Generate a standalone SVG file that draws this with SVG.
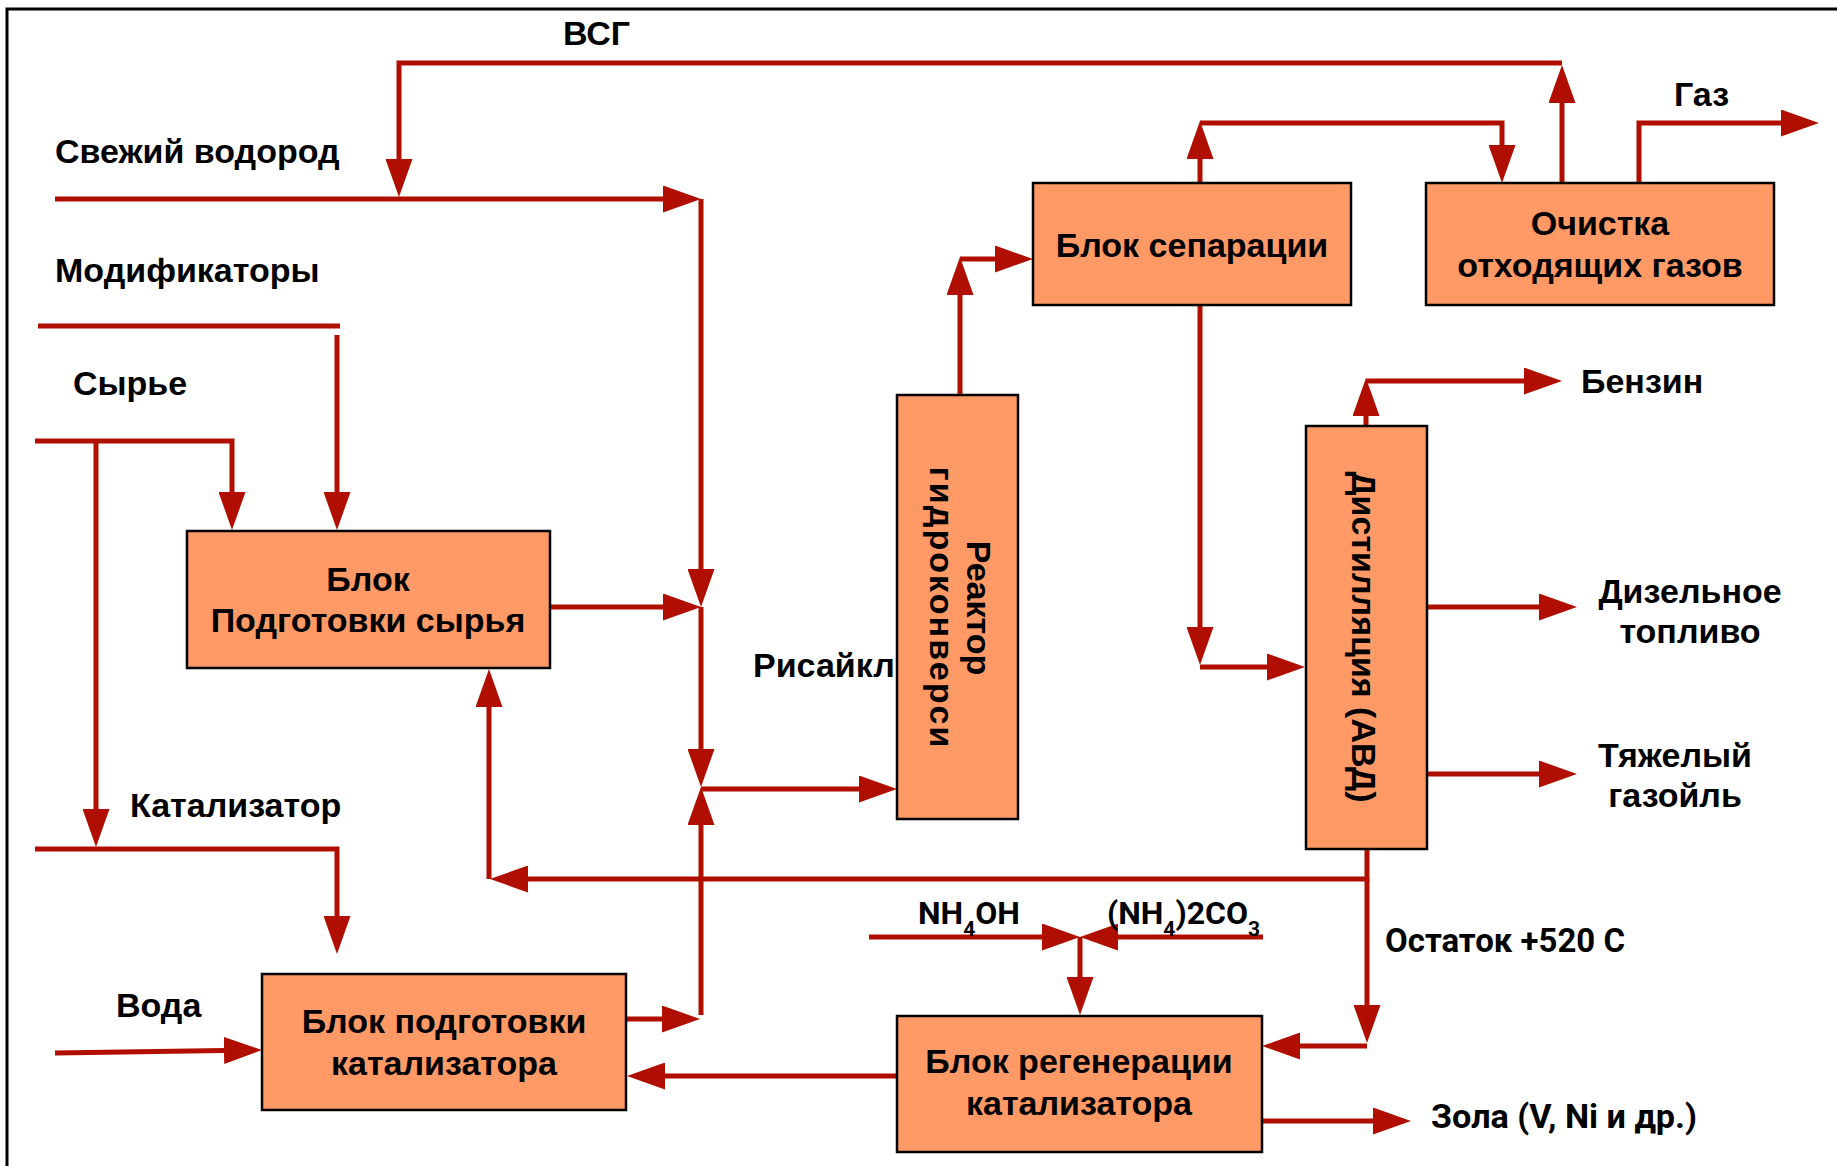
<svg xmlns="http://www.w3.org/2000/svg" width="1837" height="1166" viewBox="0 0 1837 1166">
  <style>
    .frame { fill: none; stroke: #000; stroke-width: 3; }
    .box { fill: #FF9966; stroke: #000; stroke-width: 2.5; }
    .flow { fill: none; stroke: #B00F00; stroke-width: 5; stroke-linejoin: miter; }
    .arr { marker-end: url(#ah); }
    .t { font-family: "Liberation Sans", Arial, sans-serif; font-weight: bold; font-size: 34px; fill: #000; }
    .tc { text-anchor: middle; }
    .tr { font-family: "Liberation Sans", Arial, sans-serif; font-weight: bold; font-size: 34px; fill: #000; text-anchor: middle; }
    .c { font-family: Roboto, "Noto Sans", sans-serif; font-weight: bold; font-size: 32px; fill: #000; }
    .c33 { font-size: 33px; }
    .sub { font-size: 21px; }
  </style>
  <defs>
    <marker id="ah" markerUnits="userSpaceOnUse" viewBox="0 0 38 27" markerWidth="38" markerHeight="27" refX="0" refY="13.5" orient="auto">
      <path d="M0,0 L38,13.5 L0,27 Z" fill="#B00F00"/>
    </marker>
  </defs>

  <rect width="1837" height="1166" fill="#fff"/>
  <!-- outer frame (open at right and bottom) -->
  <path class="frame" d="M7,1166 V9 H1837"/>

  <!-- connectors -->
  <g id="connectors">
    <!-- hydrogen-containing gas recycle -->
    <path class="flow arr" d="M1562,183 V103"/>
    <path class="flow arr" d="M1562,63 H399 V159"/>
    <!-- fresh hydrogen -->
    <path class="flow arr" d="M55,199 H663"/>
    <path class="flow arr" d="M701,199 V569"/>
    <path class="flow arr" d="M701,607 V749"/>
    <!-- modifiers -->
    <path class="flow" d="M38,326 H340"/>
    <path class="flow arr" d="M337,335 V492"/>
    <!-- feedstock -->
    <path class="flow arr" d="M35,441 H232 V492"/>
    <path class="flow arr" d="M96,441 V809"/>
    <!-- feed preparation to mixing point -->
    <path class="flow arr" d="M550,607 H663"/>
    <!-- mix to reactor -->
    <path class="flow arr" d="M701,789 H859"/>
    <!-- catalyst -->
    <path class="flow arr" d="M35,849 H337 V916"/>
    <!-- water -->
    <path class="flow arr" d="M55,1053 L224,1050.5"/>
    <!-- catalyst preparation output -->
    <path class="flow arr" d="M626,1019 H662"/>
    <path class="flow arr" d="M701,1015 V825"/>
    <!-- recycle -->
    <path class="flow arr" d="M1367,849 V879 H528"/>
    <path class="flow arr" d="M489,879 V707"/>
    <!-- residue to regeneration -->
    <path class="flow arr" d="M1367,879 V1005"/>
    <path class="flow arr" d="M1367,1046 H1300"/>
    <!-- reagents -->
    <path class="flow arr" d="M869,937 H1042"/>
    <path class="flow arr" d="M1263,937 H1118"/>
    <path class="flow arr" d="M1080,937 V977"/>
    <!-- regenerated catalyst back -->
    <path class="flow arr" d="M897,1076 H665"/>
    <!-- ash -->
    <path class="flow arr" d="M1262,1121 H1373"/>
    <!-- reactor to separation -->
    <path class="flow arr" d="M960,396 V295"/>
    <path class="flow arr" d="M960,259 H995"/>
    <!-- separation gas to off-gas treatment -->
    <path class="flow arr" d="M1200,183 V159"/>
    <path class="flow arr" d="M1200,123 H1502 V145"/>
    <!-- separation liquid to distillation -->
    <path class="flow arr" d="M1200,305 V627"/>
    <path class="flow arr" d="M1200,667 H1267"/>
    <!-- gas out -->
    <path class="flow arr" d="M1639,183 V123 H1781"/>
    <!-- distillation products -->
    <path class="flow arr" d="M1366,426 V416"/>
    <path class="flow arr" d="M1366,381 H1524"/>
    <path class="flow arr" d="M1427,607 H1539"/>
    <path class="flow arr" d="M1427,774 H1539"/>
  </g>

  <!-- process blocks -->
  <g id="feed-prep">
    <rect class="box" x="187" y="531" width="363" height="137"/>
    <text class="t tc" x="368" y="591">Блок</text>
    <text class="t tc" x="368" y="632">Подготовки сырья</text>
  </g>
  <g id="reactor">
    <rect class="box" x="897" y="395" width="121" height="424"/>
    <text class="tr" transform="translate(967,608) rotate(90)">Реактор</text>
    <text class="tr" transform="translate(930,607) rotate(90)" textLength="281" lengthAdjust="spacing">гидроконверси</text>
  </g>
  <g id="separation">
    <rect class="box" x="1033" y="183" width="318" height="122"/>
    <text class="t tc" x="1192" y="257">Блок сепарации</text>
  </g>
  <g id="offgas">
    <rect class="box" x="1426" y="183" width="348" height="122"/>
    <text class="t tc" x="1600" y="235">Очистка</text>
    <text class="t tc" x="1600" y="277">отходящих газов</text>
  </g>
  <g id="distillation">
    <rect class="box" x="1306" y="426" width="121" height="423"/>
    <text class="tr" transform="translate(1352,637) rotate(90)">Дистилляция (АВД)</text>
  </g>
  <g id="catalyst-prep">
    <rect class="box" x="262" y="974" width="364" height="136"/>
    <text class="t tc" x="444" y="1033">Блок подготовки</text>
    <text class="t tc" x="444" y="1075">катализатора</text>
  </g>
  <g id="regeneration">
    <rect class="box" x="897" y="1016" width="365" height="136"/>
    <text class="t tc" x="1079" y="1073">Блок регенерации</text>
    <text class="t tc" x="1079" y="1115">катализатора</text>
  </g>

  <!-- stream labels -->
  <g id="labels">
    <text class="t" x="563" y="45">ВСГ</text>
    <text class="t" x="55" y="163">Свежий водород</text>
    <text class="t" x="55" y="282">Модификаторы</text>
    <text class="t" x="73" y="395">Сырье</text>
    <text class="t" x="130" y="817">Катализатор</text>
    <text class="t" x="116" y="1017">Вода</text>
    <text class="t" x="753" y="677">Рисайкл</text>
    <text class="t" x="1674" y="106">Газ</text>
    <text class="t" x="1581" y="393">Бензин</text>
    <text class="t tc" x="1690" y="603">Дизельное</text>
    <text class="t tc" x="1690" y="643">топливо</text>
    <text class="t tc" x="1675" y="767">Тяжелый</text>
    <text class="t tc" x="1675" y="807">газойль</text>
    <text class="c" x="918" y="924">NH<tspan class="sub" dy="12">4</tspan><tspan dy="-12">OH</tspan></text>
    <text class="c" x="1107" y="924">(NH<tspan class="sub" dy="12">4</tspan><tspan dy="-12">)2CO</tspan><tspan class="sub" dy="12">3</tspan></text>
    <text class="c c33" x="1385" y="952" textLength="240" lengthAdjust="spacingAndGlyphs">Остаток +520 С</text>
    <text class="c c33" x="1431" y="1128" textLength="266" lengthAdjust="spacingAndGlyphs">Зола (V, Ni и др.)</text>
  </g>
</svg>
